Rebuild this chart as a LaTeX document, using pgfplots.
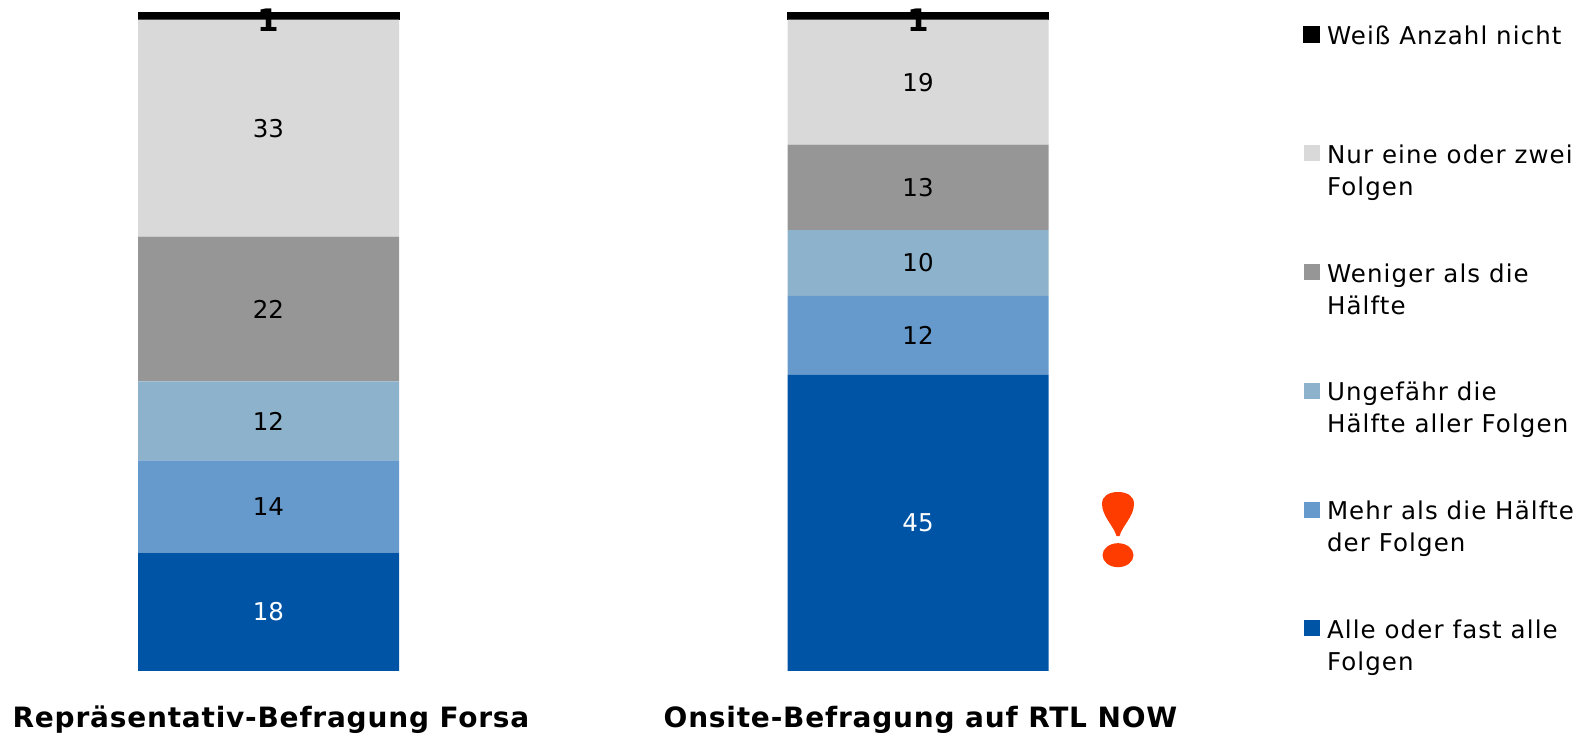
\documentclass[border=0pt]{standalone}
\usepackage{fontspec}
\setmainfont{DejaVu Sans}
\newfontfamily\labfont[LetterSpace=4.5]{DejaVu Sans}
\newfontfamily\titlefont[LetterSpace=2.8]{DejaVu Sans Bold}
\usepackage{pgfplots}
\pgfplotsset{compat=1.18}
\definecolor{cAlle}{HTML}{0054A6}
\definecolor{cMehr}{HTML}{6699CC}
\definecolor{cUng}{HTML}{8DB3CC}
\definecolor{cWen}{HTML}{969696}
\definecolor{cNur}{HTML}{D9D9D9}
\definecolor{cMark}{HTML}{FF3C00}
\newcommand{\legtext}[1]{\parbox[t]{262pt}{\baselineskip=32pt #1}}
\begin{document}
\begin{tikzpicture}
\path[use as bounding box] (0pt,-62pt) rectangle (1585pt,671pt);
\begin{axis}[
    scale only axis,
    width=1585pt,
    height=658pt,
    xmin=0, xmax=1585,
    ymin=0, ymax=100,
    clip=false,
    ybar stacked,
    bar width=261pt,
    axis line style={draw=none},
    tick style={draw=none},
    xtick={268.5,918},
    xticklabels={Repräsentativ-Befragung Forsa, Onsite-Befragung auf RTL NOW},
    xticklabel style={font=\fontsize{28}{30}\titlefont, anchor=base, yshift=-56.3pt, xshift=2.5pt},
    ytick=\empty,
    point meta=explicit symbolic,
    nodes near coords,
    nodes near coords style={font=\fontsize{24.5}{28}\selectfont, text=black},
    reverse legend,
    legend style={draw=none, fill=none, at={(axis cs:1303,100)}, anchor=north west, inner sep=0pt, outer sep=0pt,
        row sep=94.7pt, yshift=-10.8pt, legend cell align=left,
        /tikz/every odd column/.append style={column sep=5pt},
        font=\fontsize{24.5}{32}\labfont},
    legend image code/.code={\path[#1] (0pt,-6.5pt) rectangle (16pt,9.5pt);},
]
\addplot[fill=cAlle, draw=none, nodes near coords style={text=white}] coordinates {(268.5,18) [18] (918,45) [45]};
\addlegendentry{\legtext{Alle oder fast alle\\Folgen}}
\addplot[fill=cMehr, draw=none] coordinates {(268.5,14) [14] (918,12) [12]};
\addlegendentry{\legtext{Mehr als die Hälfte\\der Folgen}}
\addplot[fill=cUng, draw=none] coordinates {(268.5,12) [12] (918,10) [10]};
\addlegendentry{\legtext{Ungefähr die\\Hälfte aller Folgen}}
\addplot[fill=cWen, draw=none] coordinates {(268.5,22) [22] (918,13) [13]};
\addlegendentry{\legtext{Weniger als die\\Hälfte}}
\addplot[fill=cNur, draw=none] coordinates {(268.5,33) [33] (918,19) [19]};
\addlegendentry{\legtext{Nur eine oder zwei\\Folgen}}
\addplot[fill=black, draw=black, line width=1pt, nodes near coords style={font=\fontsize{31}{34}\selectfont\bfseries, yshift=-3.5pt}] coordinates {(268.5,1) [1] (918,1) [1]};
\addlegendentry{\legtext{Weiß Anzahl nicht}}
% Ausrufezeichen
\fill[cMark] (axis cs:1116.5,20.5) .. controls (axis cs:1114,22) and (axis cs:1102,23.5) .. (axis cs:1102,25.4)
    .. controls (axis cs:1102,26.6) and (axis cs:1109,27.2) .. (axis cs:1118,27.2)
    .. controls (axis cs:1127,27.2) and (axis cs:1134,26.6) .. (axis cs:1134,25.4)
    .. controls (axis cs:1134,23.5) and (axis cs:1122,22) .. (axis cs:1119.5,20.5) -- cycle;
\fill[cMark] (axis cs:1118,17.6) ellipse [x radius=15.5pt, y radius=12pt];
\end{axis}
\end{tikzpicture}
\end{document}
